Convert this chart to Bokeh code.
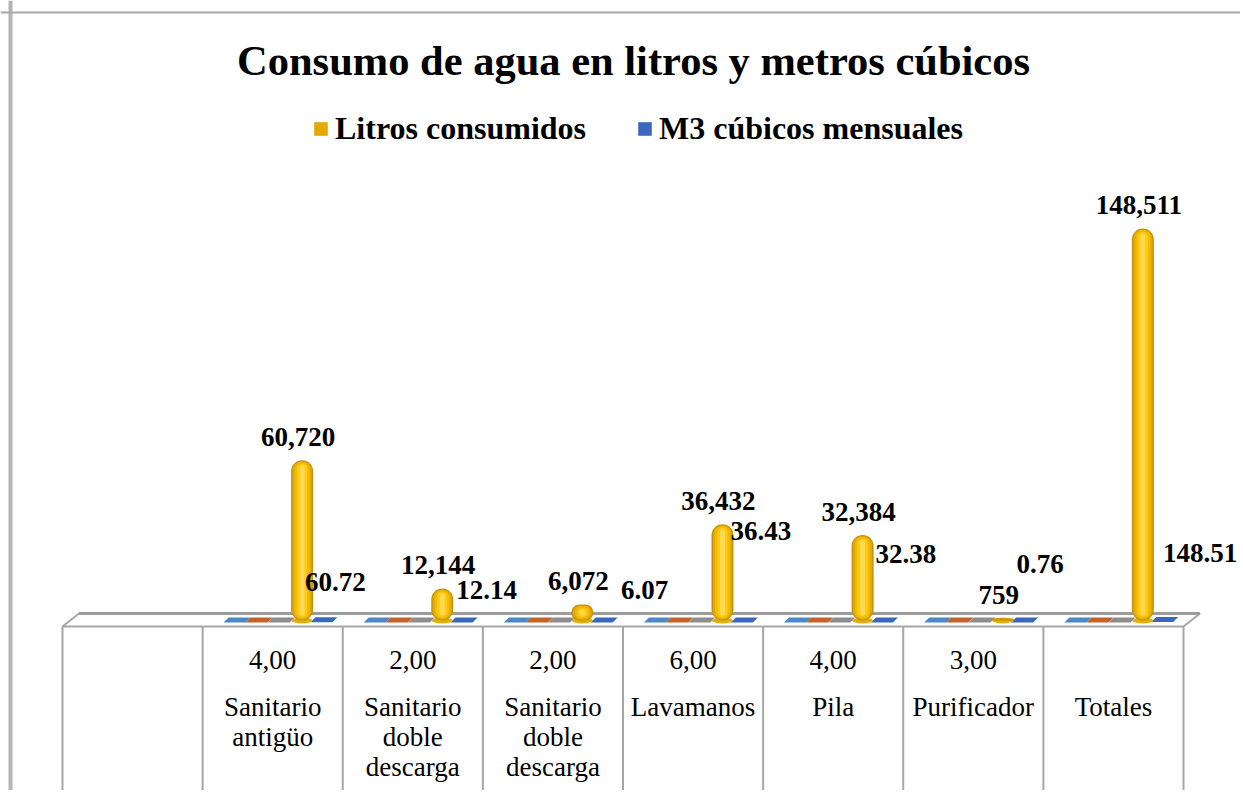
from bokeh.plotting import figure
from bokeh.models import ColumnDataSource, Label, Legend, LegendItem, Span, Range1d
from bokeh.core.properties import value
from bokeh.embed import file_html
from bokeh.resources import INLINE

# ---------------- data ----------------
titulo = "Consumo de agua en litros y metros cúbicos"
categorias = ["", "Sanitario\nantigüo", "Sanitario\ndoble\ndescarga", "Sanitario\ndoble\ndescarga",
              "Lavamanos", "Pila", "Purificador", "Totales"]
cantidades = ["", "4,00", "2,00", "2,00", "6,00", "4,00", "3,00", ""]
litros_consumidos = [None, 60720, 12144, 6072, 36432, 32384, 759, 148511]
m3_mensuales = [None, 60.72, 12.14, 6.07, 36.43, 32.38, 0.76, 148.51]
serie_1 = [None, 0, 0, 0, 0, 0, 0, 0]
serie_2 = [None, 0, 0, 0, 0, 0, 0, 0]
serie_3 = [None, 0, 0, 0, 0, 0, 0, 0]
nombres_series = ["Litros consumidos", "M3 cúbicos mensuales"]

# ---------------- layout / style ----------------
W, H = 1240, 790
COL_PX = 140.125          # width of one category column in px
X0_PX = 62                # px from left where the first column starts
BASE_PX = 620             # px from top where value 0 sits
Y_PX_PER_UNIT = 0.00264   # vertical scale
FONT = "Liberation Serif"

# position of each series inside a category column (fraction of column)
pos_s1, pos_s2, pos_s3, pos_litros, pos_m3 = 0.228, 0.385, 0.543, 0.71, 0.848
# label offsets (px) for the M3 labels, as placed in the original
m3_label_dx = [0, 14, 25, 43, 19, 24, 18, 38]
m3_label_dy = [0, -38, -30, -30, -89, -66, -56, -67]

def ux(px):
    return px / COL_PX

def uy(px):
    return px / Y_PX_PER_UNIT

n = len(categorias)
x_range = Range1d(-ux(X0_PX), ux(W - X0_PX))
y_range = Range1d(-uy(H - BASE_PX), uy(BASE_PX))

p = figure(width=W, height=H, x_range=x_range, y_range=y_range,
           output_backend="svg", toolbar_location=None, min_border=0,
           x_axis_type=None, y_axis_type=None,
           background_fill_color="white", border_fill_color="white",
           outline_line_color=None)
p.grid.visible = False

# chart border (left and top)
p.add_layout(Span(location=x_range.start + ux(10), dimension="height",
                  line_color="#B4B4B4", line_width=4))
p.add_layout(Span(location=y_range.end - uy(12), dimension="width",
                  line_color="#A8A8A8", line_width=2))

# ---------------- floor and table ----------------
skew = ux(16.5)
p.patch([0, n, n + skew, skew], [-uy(6), -uy(6), uy(7), uy(7)],
        fill_color="white", line_color="#A6A6A6", line_width=2)
p.segment(x0=[skew], y0=[uy(7)], x1=[n + skew], y1=[uy(7)],
          line_color="#9C9C9C", line_width=3)
edges = list(range(n + 1))
p.segment(x0=edges, y0=[-uy(6)] * len(edges), x1=edges, y1=[y_range.start] * len(edges),
          line_color="#A6A6A6", line_width=2)

# ---------------- flat markers on the floor (near-zero series) ----------------
mw, msk = ux(22), ux(5)

def flat_marks(vals, pos):
    xs, ys = [], []
    for k, v in enumerate(vals):
        if v is None:
            continue
        cx = k + pos
        top = v + uy(3)
        bot = v - uy(2)
        xs.append([cx - mw / 2, cx + mw / 2, cx + mw / 2 + msk, cx - mw / 2 + msk])
        ys.append([bot, bot, top, top])
    return xs, ys

for vals, pos, col in [(serie_1, pos_s1, "#4C87C6"), (serie_2, pos_s2, "#C5622A"),
                       (serie_3, pos_s3, "#8E8E8E")]:
    xs, ys = flat_marks(vals, pos)
    p.patches(xs, ys, fill_color=col, line_color=None)

xs, ys = flat_marks(m3_mensuales, pos_m3)
r_m3 = p.patches(xs, ys, fill_color="#3A68BE", line_color=None)

# ---------------- gold cylinders ----------------
idx = [k for k, v in enumerate(litros_consumidos) if v is not None]
lx = [k + pos_litros for k in idx]
lv = [litros_consumidos[k] for k in idx]

p.ellipse(x=lx, y=[0] * len(lx), width=21, height=6,
          width_units="screen", height_units="screen",
          fill_color="#E3AE0C", line_color=None)

layers = [(22, 0, "#C4920A"), (19, 1, "#E2AA00"), (15, 2, "#F4BB00"),
          (10, 3.5, "#FFC914"), (5, 5, "#FFDA4F")]
gold_renderers = []
for w_px, inset, col in layers:
    bottoms = [uy(inset)] * len(lv)
    tops = [max(v - uy(inset), uy(inset)) for v in lv]
    r = p.vbar(x=lx, width=ux(w_px), top=tops, bottom=bottoms,
               fill_color=col, line_color=None, border_radius=int(w_px // 2))
    gold_renderers.append(r)

# ---------------- data labels ----------------
src_l = ColumnDataSource(dict(x=lx, y=lv, t=[f"{v:,.0f}" for v in lv]))
p.text(x="x", y="y", text="t", source=src_l, x_offset=-4, y_offset=-23,
       text_font=value(FONT), text_font_style="bold", text_font_size="27px",
       text_align="center", text_baseline="middle", text_color="black")

midx = [k for k, v in enumerate(m3_mensuales) if v is not None]
src_m = ColumnDataSource(dict(
    x=[k + pos_m3 for k in midx], y=[m3_mensuales[k] for k in midx],
    t=[f"{m3_mensuales[k]:.2f}" for k in midx],
    dx=[m3_label_dx[k] for k in midx], dy=[m3_label_dy[k] for k in midx]))
p.text(x="x", y="y", text="t", source=src_m, x_offset="dx", y_offset="dy",
       text_font=value(FONT), text_font_style="bold", text_font_size="27px",
       text_align="center", text_baseline="middle", text_color="black")

# ---------------- table labels ----------------
src_c = ColumnDataSource(dict(x=[k + 0.5 for k in range(n)], y=[0] * n, t=cantidades))
p.text(x="x", y="y", text="t", source=src_c, y_offset=39,
       text_font=value(FONT), text_font_size="27px",
       text_align="center", text_baseline="middle", text_color="black")

lines_x, lines_t, lines_dy = [], [], []
for k, c in enumerate(categorias):
    for i, part in enumerate(c.split("\n")):
        if part:
            lines_x.append(k + 0.5)
            lines_t.append(part)
            lines_dy.append(86 + 30 * i)
src_n = ColumnDataSource(dict(x=lines_x, y=[0] * len(lines_x), t=lines_t, dy=lines_dy))
p.text(x="x", y="y", text="t", source=src_n, y_offset="dy",
       text_font=value(FONT), text_font_size="27px",
       text_align="center", text_baseline="middle", text_color="black")

# ---------------- title and legend ----------------
p.add_layout(Label(x=633, y=H - 60, x_units="screen", y_units="screen", text=titulo,
                   text_font=FONT, text_font_style="bold", text_font_size="42.5px",
                   text_align="center", text_baseline="middle", text_color="black"))

legend = Legend(items=[LegendItem(label=nombres_series[0], renderers=[gold_renderers[1]]),
                       LegendItem(label=nombres_series[1], renderers=[r_m3])],
                orientation="horizontal", location=(312, H - 147),
                label_text_font=FONT, label_text_font_style="bold",
                label_text_font_size="32px", label_text_color="black",
                glyph_width=17, glyph_height=17, label_standoff=6, spacing=50,
                padding=0, margin=0, border_line_color=None,
                background_fill_alpha=0)
p.add_layout(legend)

open("out.html", "w").write(file_html(p, INLINE))
